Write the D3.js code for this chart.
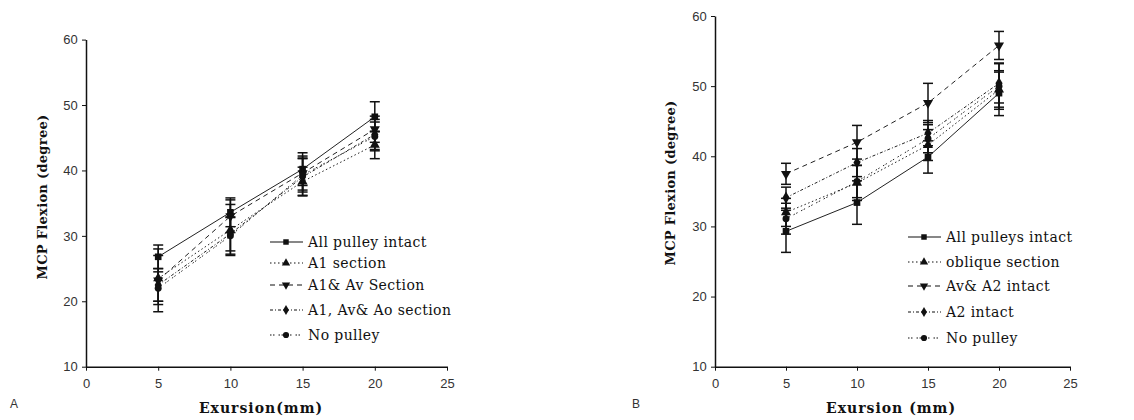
<html>
<head>
<meta charset="utf-8">
<title>MCP flexion vs excursion</title>
<script src="https://cdn.jsdelivr.net/npm/d3@7"></script>
<style>
	body { margin: 0; background: #fff; }
	.tick text { font-family: "Liberation Sans", Arial, sans-serif; font-size: 13px; fill: #333; }
	.axis path, .axis line { stroke: #111; }
	.title { font-family: "DejaVu Serif", "Liberation Serif", serif; font-weight: 700; fill: #111; }
	.legend text { font-family: "DejaVu Serif", "Liberation Serif", serif; font-size: 14px; fill: #111; }
	.panel { font-family: "Liberation Sans", Arial, sans-serif; font-size: 12px; fill: #333; }
</style>
</head>
<body>
<svg id="chart" width="1134" height="420"></svg>
<script>

// excursion values (mm)
var excursion = [5, 10, 15, 20];
var xTicks = [0, 5, 10, 15, 20, 25];
var yTicks = [10, 20, 30, 40, 50, 60];

// panel A
var namesA = ["All pulley intact", "A1 section", "A1& Av Section", "A1, Av& Ao section", "No pulley"];
var meanA = [
	[26.8, 33.6, 40.2, 48.2],
	[23.5, 30.9, 38.3, 43.9],
	[23.2, 33.0, 39.6, 46.3],
	[22.5, 30.3, 39.0, 45.5],
	[22.0, 30.0, 39.3, 45.2]
];
var sdA = [
	[1.8, 2.2, 2.5, 2.3],
	[3.5, 3.9, 2.2, 2.1],
	[4.8, 2.5, 2.6, 2.0],
	[2.5, 2.6, 2.8, 2.3],
	[2.5, 2.8, 2.6, 2.2]
];

// panel B
var namesB = ["All pulleys intact", "oblique section", "Av& A2 intact", "A2 intact", "No pulley"];
var meanB = [
	[29.3, 33.4, 39.9, 49.0],
	[32.0, 36.2, 41.6, 49.5],
	[37.5, 42.0, 47.6, 55.8],
	[34.1, 39.1, 43.3, 50.4],
	[31.1, 36.4, 42.5, 50.0]
];
var sdB = [
	[3.0, 3.1, 2.3, 3.2],
	[2.0, 2.5, 2.2, 2.5],
	[1.5, 2.4, 2.8, 2.0],
	[1.5, 2.0, 1.8, 2.8],
	[2.2, 2.3, 2.0, 3.3]
];

var dashes = ["none", "1.5,2.5", "5,4", "3,2,1,2", "1.5,1.5,1.5,4"];
var symbols = [d3.symbolSquare, d3.symbolTriangle, d3.symbolTriangle, d3.symbolDiamond, d3.symbolCircle];

var svg = d3.select("#chart");

function drawPanel(opt) {
	var x = d3.scaleLinear().domain([0, 25]).range([opt.left, opt.right]);
	var y = d3.scaleLinear().domain([10, 60]).range([opt.bottom, opt.top]);
	var g = svg.append("g");

	g.append("g")
		.attr("class", "axis")
		.attr("transform", "translate(0," + opt.bottom + ")")
		.call(d3.axisBottom(x).tickValues(xTicks).tickSize(4).tickSizeOuter(0))
		.call(function(a) { a.select(".domain").attr("stroke-width", 1.5); })
		.selectAll("text").attr("dy", "1.1em");
	g.append("g")
		.attr("class", "axis")
		.attr("transform", "translate(" + opt.left + ",0)")
		.call(d3.axisLeft(y).tickValues(yTicks).tickSize(4).tickSizeOuter(0))
		.call(function(a) { a.select(".domain").attr("stroke-width", 1.5); })
		.selectAll("text").attr("dx", "-0.1em");

	var line = d3.line()
		.x(function(d, i) { return x(excursion[i]); })
		.y(function(d) { return y(d); });

	opt.means.forEach(function(series, s) {
		var sg = g.append("g");
		sg.append("path")
			.datum(series)
			.attr("d", line)
			.attr("fill", "none")
			.attr("stroke", "#222")
			.attr("stroke-width", 1)
			.attr("stroke-dasharray", dashes[s]);
		series.forEach(function(v, i) {
			var cx = x(excursion[i]);
			var sd = opt.sds[s][i];
			sg.append("line")
				.attr("x1", cx).attr("x2", cx)
				.attr("y1", y(v - sd)).attr("y2", y(v + sd))
				.attr("stroke", "#111").attr("stroke-width", 1.5);
			[v - sd, v + sd].forEach(function(e) {
				sg.append("line")
					.attr("x1", cx - 5).attr("x2", cx + 5)
					.attr("y1", y(e)).attr("y2", y(e))
					.attr("stroke", "#111").attr("stroke-width", 1.5);
			});
			sg.append("path")
				.attr("d", d3.symbol().type(symbols[s]).size(s === 4 ? 38 : 44)())
				.attr("transform", "translate(" + cx + "," + y(v) + ")" + (s === 2 ? " rotate(180)" : ""))
				.attr("fill", "#111");
		});
	});

	// legend
	var lg = g.append("g").attr("class", "legend");
	opt.names.forEach(function(n, s) {
		var ly = opt.legendY[s];
		lg.append("line")
			.attr("x1", opt.legendX).attr("x2", opt.legendX + 33)
			.attr("y1", ly).attr("y2", ly)
			.attr("stroke", "#111").attr("stroke-width", 1.2)
			.attr("stroke-dasharray", dashes[s]);
		lg.append("path")
			.attr("d", d3.symbol().type(symbols[s]).size(30)())
			.attr("transform", "translate(" + (opt.legendX + 16) + "," + ly + ")" + (s === 2 ? " rotate(180)" : ""))
			.attr("fill", "#111");
		lg.append("text")
			.attr("x", opt.legendX + 38)
			.attr("y", ly)
			.attr("dy", "0.35em")
			.attr("letter-spacing", 0.4)
			.text(n);
	});

	// titles
	g.append("text")
		.attr("class", "title")
		.attr("x", opt.xTitleX)
		.attr("y", 413)
		.attr("text-anchor", "middle")
		.style("font-size", "14px")
		.attr("letter-spacing", 1)
		.text(opt.xTitle);
	g.append("text")
		.attr("class", "title")
		.attr("transform", "translate(" + opt.yTitleX + "," + opt.yTitleY + ") rotate(-90)")
		.attr("text-anchor", "middle")
		.style("font-size", "13px")
		.attr("letter-spacing", 0.3)
		.text("MCP Flexion (degree)");
	g.append("text")
		.attr("class", "panel")
		.attr("x", opt.panelX)
		.attr("y", 408)
		.text(opt.panel);
}

drawPanel({
	left: 86, right: 447, top: 39.6, bottom: 366.7,
	means: meanA, sds: sdA, names: namesA,
	legendX: 270, legendY: [242, 263, 285, 310, 335],
	xTitle: "Exursion(mm)", xTitleX: 261, yTitleX: 47, yTitleY: 197,
	panel: "A", panelX: 10
});

drawPanel({
	left: 715, right: 1070, top: 16, bottom: 366.7,
	means: meanB, sds: sdB, names: namesB,
	legendX: 908, legendY: [237, 262, 286, 312, 338],
	xTitle: "Exursion (mm)", xTitleX: 891, yTitleX: 675, yTitleY: 183,
	panel: "B", panelX: 632
});
</script>
</body>
</html>
